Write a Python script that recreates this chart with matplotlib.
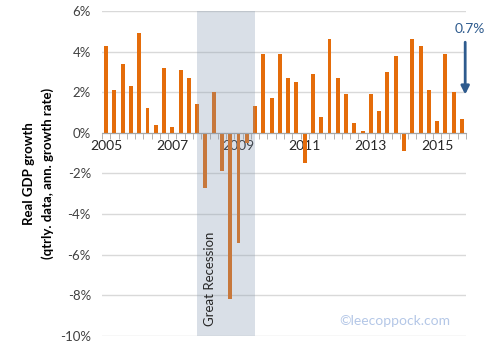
import numpy as np
import matplotlib
matplotlib.use('Agg')
import matplotlib.pyplot as plt
from matplotlib.ticker import FixedLocator, FuncFormatter

plt.rcParams['font.family'] = ['Lato', 'DejaVu Sans']

# quarterly real GDP growth, 2005Q1 - 2015Q4 (annualized, %)
quarters = [f'{y}Q{q}' for y in range(2005, 2016) for q in range(1, 5)]
growth = [4.3, 2.1, 3.4, 2.3,
          4.9, 1.2, 0.4, 3.2,
          0.3, 3.1, 2.7, 1.4,
          -2.7, 2.0, -1.9, -8.2,
          -5.4, -0.5, 1.3, 3.9,
          1.7, 3.9, 2.7, 2.5,
          -1.5, 2.9, 0.8, 4.6,
          2.7, 1.9, 0.5, 0.1,
          1.9, 1.1, 3.0, 3.8,
          -0.9, 4.6, 4.3, 2.1,
          0.6, 3.9, 2.0, 0.7]
year_labels = ['2005', '2007', '2009', '2011', '2013', '2015']
recession = ('2007Q4', '2009Q2')
last_value = '0.7%'

x = np.arange(len(quarters))

fig = plt.figure(figsize=(4.89, 3.5), dpi=100)
ax = fig.add_axes([0.2086, 0.04, 0.7444, 0.9286])

ax.bar(x, growth, width=0.48, color='#E46C0A', zorder=2)

# recession shading (drawn on top, semi-transparent)
r0 = quarters.index(recession[0])
r1 = quarters.index(recession[1]) + 1
ax.axvspan(r0, r1, color='#8497B0', alpha=0.3, lw=0, zorder=3)
ax.text((r0 + r1) / 2 - 1.9, -7.2, 'Great Recession', rotation=90,
        ha='center', va='center', fontsize=9.5, color='#262626', zorder=4)

ax.set_xlim(-0.5, len(quarters) - 0.5)
ax.set_ylim(-10, 6)

# y axis
ax.set_yticks(np.arange(-10, 7, 2))
ax.yaxis.set_major_formatter(FuncFormatter(lambda v, p: f'{v:.0f}%'))
ax.tick_params(axis='y', length=0, labelsize=9.5, labelcolor='#404040', pad=8)
ax.grid(axis='y', color='#D9D9D9', lw=1, zorder=0)
ax.set_axisbelow(True)

# x axis on the zero line
for s in ['left', 'right', 'top']:
    ax.spines[s].set_visible(False)
ax.spines['bottom'].set_position(('data', 0))
ax.spines['bottom'].set_color('#A6A6A6')
ax.spines['bottom'].set_zorder(2.5)
year_pos = [quarters.index(y + 'Q1') for y in year_labels]
ax.set_xticks(year_pos)
ax.set_xticklabels(year_labels)
ax.xaxis.set_minor_locator(FixedLocator(np.arange(-0.5, len(quarters), 1)))
ax.tick_params(axis='x', which='major', length=0, labelsize=10, labelcolor='#262626', pad=5)
ax.tick_params(axis='x', which='minor', length=4, color='#A6A6A6', direction='out')

ax.set_ylabel('Real GDP growth\n(qtrly. data, ann. growth rate)', fontsize=9.5,
              fontweight='bold', labelpad=4, linespacing=1.6)

# latest value annotation
ax.annotate('', xy=(len(quarters) - 0.6, 1.75), xytext=(len(quarters) - 0.6, 4.6),
            arrowprops=dict(arrowstyle='-|>', color='#2E5B8E', lw=2, mutation_scale=12))
ax.text(len(quarters) - 0.1, 5.1, last_value, ha='center', va='center',
        fontsize=10, color='#2E5B8E', clip_on=False)

fig.text(0.808, 0.083, '©leecoppock.com', ha='center', va='center',
         fontsize=10, color='#B4C7E7')

fig.savefig('out.png', dpi=100)
